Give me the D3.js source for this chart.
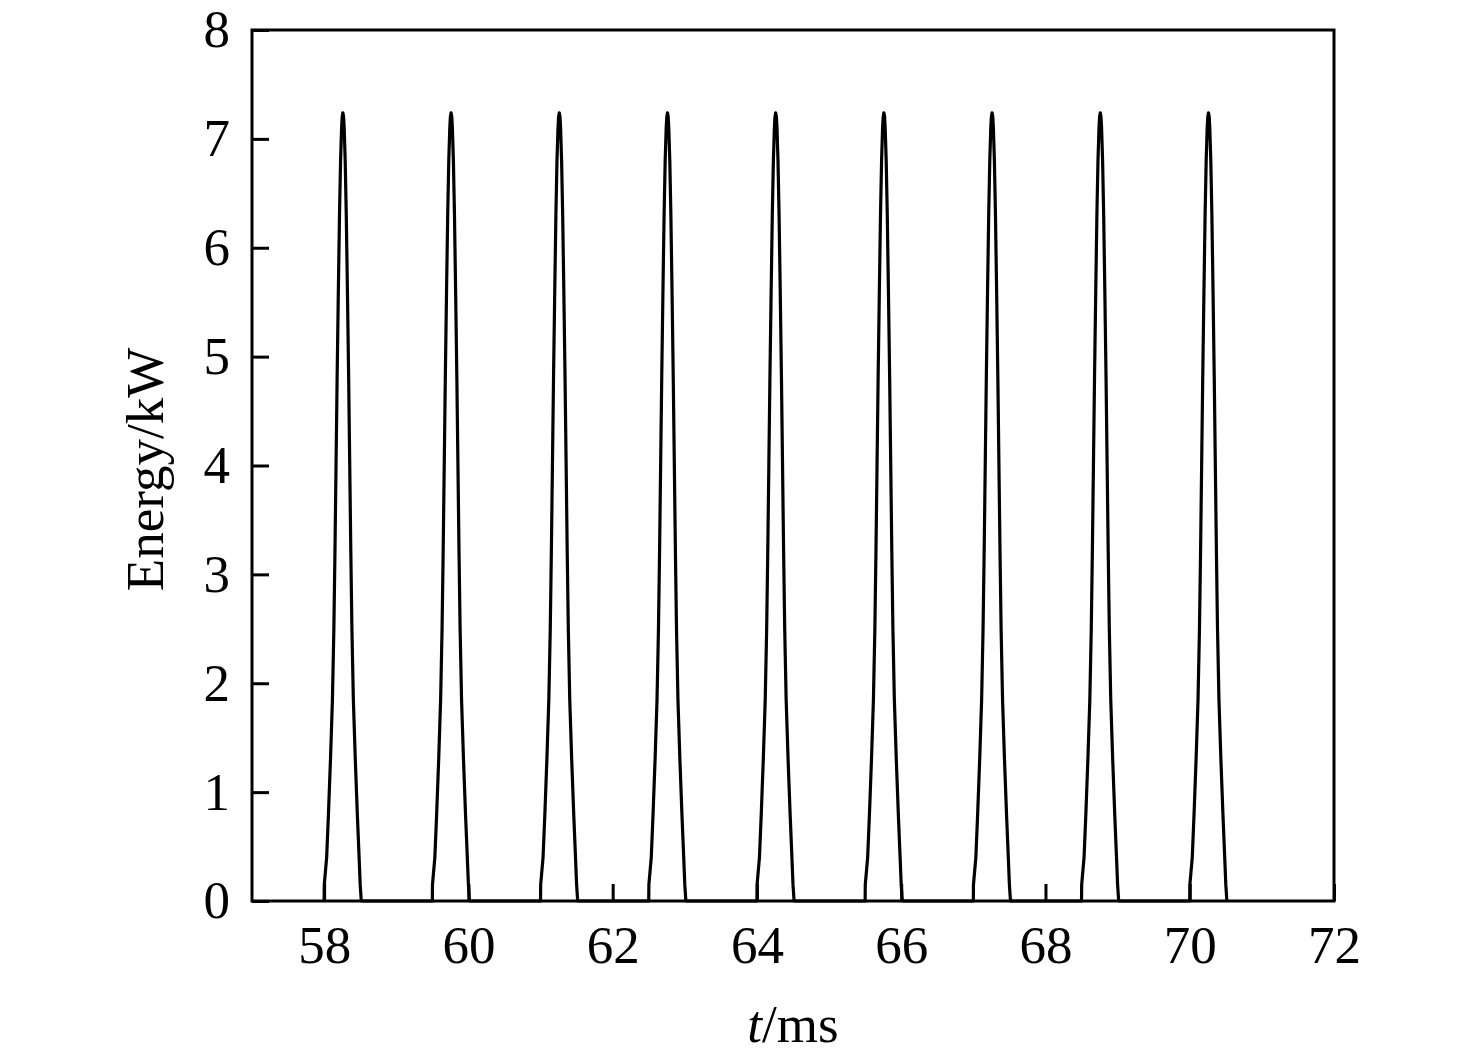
<!DOCTYPE html>
<html>
<head>
<meta charset="utf-8">
<script src="https://cdn.jsdelivr.net/npm/d3@7"></script>
<style>
  body { margin: 0; background: #fff; }
  text { font-family: "Liberation Serif", "Times New Roman", serif; fill: #000; }
</style>
</head>
<body>
<svg id="chart"></svg>
<script>
// pulse start times (ms)
const pulseStarts = [58.0, 59.5, 61.0, 62.5, 64.0, 65.5, 67.0, 68.5, 70.0];

// one pulse profile: time offset from pulse start (ms) and energy (kW)
const pulseOffsets = [0.000, 0.002, 0.035, 0.060, 0.088, 0.115, 0.135, 0.150, 0.165, 0.180,
  0.197, 0.213, 0.228, 0.242, 0.250, 0.260, 0.270, 0.278, 0.292, 0.307,
  0.323, 0.340, 0.355, 0.370, 0.385, 0.405, 0.432, 0.460, 0.485, 0.500, 0.515];
const pulseValues = [0.00, 0.15, 0.40, 0.80, 1.30, 1.85, 2.50, 3.20, 4.00, 4.80,
  5.60, 6.30, 6.80, 7.10, 7.20, 7.24, 7.20, 7.10, 6.80, 6.30,
  5.60, 4.80, 4.00, 3.20, 2.50, 1.85, 1.30, 0.80, 0.40, 0.15, 0.00];

const xTicks = [58, 60, 62, 64, 66, 68, 70, 72];
const yTicks = [0, 1, 2, 3, 4, 5, 6, 7, 8];

const width = 1476, height = 1059;
const margin = { top: 30, right: 142, bottom: 158, left: 252 };
const innerW = width - margin.left - margin.right;
const innerH = height - margin.top - margin.bottom;

const points = [];
pulseStarts.forEach(s => {
  pulseOffsets.forEach((o, i) => points.push([s + o, pulseValues[i]]));
});

const svg = d3.select('#chart')
  .attr('width', width)
  .attr('height', height);

const g = svg.append('g')
  .attr('transform', `translate(${margin.left},${margin.top})`);

const x = d3.scaleLinear().domain([57, 72]).range([0, innerW]);
const y = d3.scaleLinear().domain([0, 8]).range([innerH, 0]);

const line = d3.line()
  .x(d => x(d[0]))
  .y(d => y(d[1]));

g.append('path')
  .datum(points)
  .attr('fill', 'none')
  .attr('stroke', '#000')
  .attr('stroke-width', 3.2)
  .attr('stroke-linejoin', 'round')
  .attr('d', line);

const xAxis = g.append('g')
  .attr('transform', `translate(0,${innerH})`)
  .call(d3.axisBottom(x).tickValues(xTicks).tickFormat(d3.format('d'))
    .tickSizeInner(-17).tickSizeOuter(0).tickPadding(24));

const yAxis = g.append('g')
  .call(d3.axisLeft(y).tickValues(yTicks).tickFormat(d3.format('d'))
    .tickSizeInner(-17).tickSizeOuter(0).tickPadding(22));

[xAxis, yAxis].forEach(a => {
  a.select('.domain').remove();
  a.selectAll('.tick line').attr('stroke', '#000').attr('stroke-width', 3);
  a.selectAll('.tick text')
    .style('font-size', '53px')
    .style('font-family', '"Liberation Serif", serif')
    .attr('fill', '#000');
});

g.append('rect')
  .attr('width', innerW)
  .attr('height', innerH)
  .attr('fill', 'none')
  .attr('stroke', '#000')
  .attr('stroke-width', 3);

const xLabel = svg.append('text')
  .attr('x', margin.left + innerW / 2)
  .attr('y', 1042)
  .attr('text-anchor', 'middle')
  .style('font-size', '53px');
xLabel.append('tspan').style('font-style', 'italic').text('t');
xLabel.append('tspan').text('/ms');

svg.append('text')
  .attr('transform', `translate(163,${margin.top + innerH / 2 + 4}) rotate(-90)`)
  .attr('text-anchor', 'middle')
  .style('font-size', '53px')
  .text('Energy/kW');
</script>
</body>
</html>
